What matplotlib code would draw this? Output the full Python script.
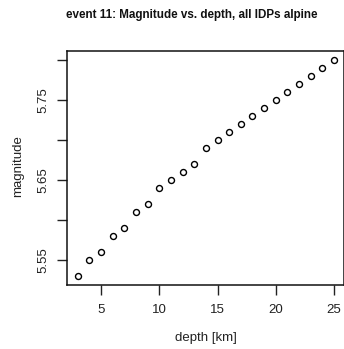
import matplotlib
matplotlib.use("Agg")
import matplotlib.pyplot as plt

depth_km = [3, 4, 5, 6, 7, 8, 9, 10, 11, 12, 13, 14, 15, 16, 17, 18, 19, 20, 21, 22, 23, 24, 25]
magnitude = [5.53, 5.55, 5.56, 5.58, 5.59, 5.61, 5.62, 5.64, 5.65, 5.66, 5.67, 5.69,
             5.70, 5.71, 5.72, 5.73, 5.74, 5.75, 5.76, 5.77, 5.78, 5.79, 5.80]
x_ticks = [5, 10, 15, 20, 25]
y_ticks = [5.55, 5.60, 5.65, 5.70, 5.75, 5.80]
y_tick_labels = ["5.55", "", "5.65", "", "5.75", ""]

plt.rcParams['font.family'] = ['Liberation Sans', 'DejaVu Sans']

W, H = 344, 349
fig = plt.figure(figsize=(W / 100, H / 100), dpi=100)
l, r, t, b = 67.4, 344.3, 51.3, 284.8
ax = fig.add_axes([l / W, 1 - b / H, (r - l) / W, (b - t) / H])

ax.plot(depth_km, magnitude, linestyle='none', marker='o', markersize=4.3,
        markerfacecolor='none', markeredgecolor='black', markeredgewidth=1.0)

xr = max(depth_km) - min(depth_km)
yr = max(magnitude) - min(magnitude)
ax.set_xlim(min(depth_km) - 0.04 * xr, max(depth_km) + 0.04 * xr)
ax.set_ylim(min(magnitude) - 0.04 * yr, max(magnitude) + 0.04 * yr)

ax.set_xticks(x_ticks)
ax.set_xticklabels([str(v) for v in x_ticks], fontsize=9.5, color='#222222')
ax.set_yticks(y_ticks)
ax.set_yticklabels(y_tick_labels, fontsize=9.5, rotation=90, va='center', color='#222222')
ax.tick_params(axis='both', direction='out', length=7, width=1, color='#222222')
ax.tick_params(axis='x', pad=7)
ax.tick_params(axis='y', pad=6)
for s in ax.spines.values():
    s.set_linewidth(1.1)
    s.set_color('#111111')

ax.set_xlabel('depth [km]', fontsize=9.5, color='#222222', labelpad=11)
fig.text(18 / W, 1 - 166 / H, 'magnitude', rotation=90, fontsize=9.5,
         ha='center', va='center', color='#222222')
fig.text(192 / W, 1 - 15 / H, 'event 11: Magnitude vs. depth, all IDPs alpine',
         fontsize=8.4, fontweight='bold', ha='center', va='center', color='#111111')

fig.savefig('out.png', dpi=100)
